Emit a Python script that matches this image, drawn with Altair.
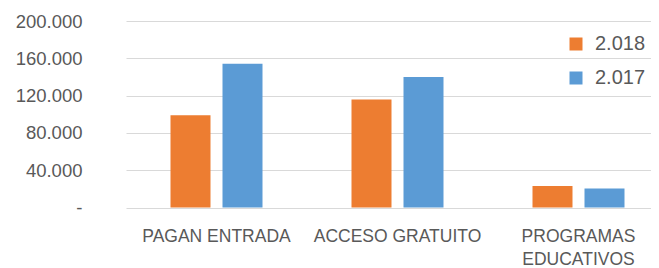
import altair as alt
import pandas as pd

categories = ["PAGAN ENTRADA", "ACCESO GRATUITO", "PROGRAMAS EDUCATIVOS"]
series = ["2.018", "2.017"]
values_2018 = [99000, 115700, 23000]
values_2017 = [154200, 139900, 20500]
colors = ["#ED7D31", "#5B9BD5"]
y_ticks = [0, 40000, 80000, 120000, 160000, 200000]

rows = []
for c, a, b in zip(categories, values_2018, values_2017):
    rows.append({"cat": c, "serie": series[0], "valor": a})
    rows.append({"cat": c, "serie": series[1], "valor": b})
df = pd.DataFrame(rows)

font = "Liberation Sans"
txt = "#595959"

chart = alt.Chart(df).mark_bar().encode(
    x=alt.X(
        "cat:N",
        sort=categories,
        scale=alt.Scale(paddingInner=0, paddingOuter=0, range=[0, 543]),
        axis=alt.Axis(
            title=None, ticks=False, domain=False, grid=False, labelAngle=0,
            labelFontSize=17.5, labelColor=txt, labelFont=font,
            labelPadding=20, labelBaseline="top", labelLineHeight=23,
            labelExpr="datum.label == 'PROGRAMAS EDUCATIVOS' ? ['PROGRAMAS', 'EDUCATIVOS'] : datum.label",
        ),
    ),
    xOffset=alt.XOffset(
        "serie:N", sort=series,
        scale=alt.Scale(paddingInner=0.2308, paddingOuter=0.8558),
    ),
    y=alt.Y(
        "valor:Q",
        scale=alt.Scale(domain=[0, 200000], nice=False),
        axis=alt.Axis(
            values=y_ticks, title=None, ticks=False, domain=False,
            gridColor="#d9d9d9", gridWidth=1.2,
            labelFontSize=18.5, labelColor=txt, labelFont=font, labelPadding=44,
            labelExpr="datum.value == 0 ? '-\u2007\u2005' : replace(format(datum.value, ',.0f'), ',', '.')",
        ),
    ),
    color=alt.Color(
        "serie:N", sort=series,
        scale=alt.Scale(domain=series, range=colors),
        legend=alt.Legend(
            title=None, orient="none", legendX=440, legendY=13,
            symbolType="square", symbolSize=169, symbolStrokeWidth=0,
            labelFontSize=20, labelColor=txt, labelFont=font,
            labelOffset=9, rowPadding=14,
        ),
    ),
).properties(
    width=525, height=186.5,
    autosize="none",
    padding={"left": 118, "top": 13, "right": 0, "bottom": 62},
).configure_view(stroke=None)

chart.save("out.html", embed_options={"renderer": "svg", "actions": False})
